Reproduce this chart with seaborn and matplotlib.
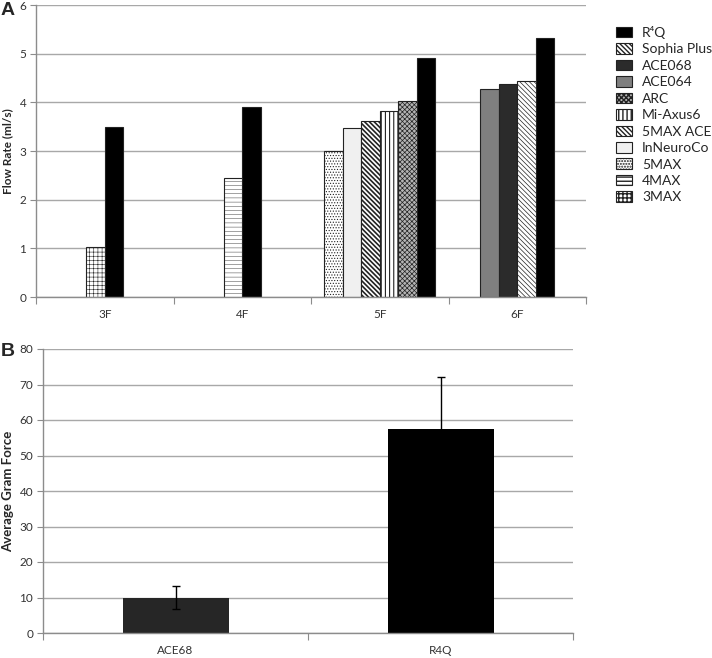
import pandas as pd
import matplotlib.pyplot as plt
import matplotlib.patches as mpatches
import seaborn as sns

# Panel A: flow rate per catheter size (ml/s)
categories = ["3F", "4F", "5F", "6F"]
series_3f = ["3MAX", "R4Q"]
values_3f = [1.03, 3.50]
series_4f = ["4MAX", "R4Q"]
values_4f = [2.44, 3.90]
series_5f = ["5MAX", "InNeuroCo", "5MAX ACE", "Mi-Axus6", "ARC", "R4Q"]
values_5f = [3.00, 3.48, 3.61, 3.83, 4.02, 4.92]
series_6f = ["ACE064", "ACE068", "Sophia Plus", "R4Q"]
values_6f = [4.27, 4.37, 4.43, 5.32]

legend_order = ["R4Q", "Sophia Plus", "ACE068", "ACE064", "ARC", "Mi-Axus6",
                "5MAX ACE", "InNeuroCo", "5MAX", "4MAX", "3MAX"]
legend_labels = ["R⁴Q", "Sophia Plus", "ACE068", "ACE064", "ARC", "Mi-Axus6",
                 "5MAX ACE", "InNeuroCo", "5MAX", "4MAX", "3MAX"]

# Panel B: average gram force
b_names = ["ACE68", "R4Q"]
b_means = [10.0, 57.6]
b_errs = [3.3, 14.6]

# look of each device: (face colour, hatch, hatch line width)
styles = {
    "R4Q": ("#000000", "", 0.5),
    "Sophia Plus": ("#ffffff", "\\" * 7, 0.5),
    "ACE068": ("#2b2b2b", "", 0.5),
    "ACE064": ("#7f7f7f", "", 0.5),
    "ARC": ("#b4b4b4", "x" * 7, 0.5),
    "Mi-Axus6": ("#ffffff", "||||", 0.8),
    "5MAX ACE": ("#ffffff", "\\" * 7, 1.2),
    "InNeuroCo": ("#f0f0f0", "", 0.5),
    "5MAX": ("#ffffff", "......", 0.5),
    "4MAX": ("#ffffff", "----", 0.3),
    "3MAX": ("#ffffff", "++++", 0.4),
}

sns.set_style("white")
plt.rcParams["font.family"] = ["Lato", "DejaVu Sans"]
plt.rcParams["hatch.color"] = "#222222"

W, H = 712, 658
fig = plt.figure(figsize=(W / 100, H / 100), dpi=100)


def px_axes(left, top, right, bottom):
    return fig.add_axes([left / W, 1 - bottom / H, (right - left) / W, (bottom - top) / H])


def apply_hatch(patch, name):
    face, hatch, hlw = styles[name]
    patch.set_hatch(hatch)
    if hasattr(patch, "set_hatch_linewidth"):
        patch.set_hatch_linewidth(hlw)
    else:
        patch._hatch_linewidth = hlw


grid_col = "#a8a8a8"
spine_col = "#8c8c8c"

# ---- panel A ----
bw = 0.134
rows = []
groups = [(series_3f, values_3f), (series_4f, values_4f),
          (series_5f, values_5f), (series_6f, values_6f)]
for i, (names, vals) in enumerate(groups):
    n = len(names)
    for j, (s, v) in enumerate(zip(names, vals)):
        rows.append({"pos": round(i + (j - (n - 1) / 2) * bw, 4), "value": v, "series": s})
df = pd.DataFrame(rows)

axA = px_axes(36, 5, 586, 297)
sns.barplot(data=df, x="pos", y="value", hue="series", native_scale=True, dodge=False,
            width=1.0, palette={k: v[0] for k, v in styles.items()},
            edgecolor="#222222", linewidth=0.8, errorbar=None, legend=False, ax=axA)
for p in axA.patches:
    c = p.get_x() + p.get_width() / 2
    row = df.iloc[(df["pos"] - c).abs().argmin()]
    apply_hatch(p, row["series"])

axA.set_xlim(-0.5, 3.5)
axA.set_ylim(0, 6)
axA.set_yticks(range(0, 7))
axA.set_xticks([-0.5, 0.5, 1.5, 2.5, 3.5])
axA.set_xticklabels([])
axA.set_xticks(range(4), minor=True)
axA.set_xticklabels(categories, minor=True)
axA.set_xlabel("")
axA.set_ylabel("Flow Rate (ml/s)", fontsize=8.5, fontweight="bold")
axA.yaxis.set_label_coords(-0.042, 0.5)

# legend
handles = []
for s in legend_order:
    h = mpatches.Patch(facecolor=styles[s][0], edgecolor="#222222", linewidth=0.8)
    apply_hatch(h, s)
    handles.append(h)
fig.legend(handles, legend_labels, loc="upper left",
           bbox_to_anchor=(616 / W, 1 - 26 / H), frameon=False, fontsize=10,
           borderpad=0, borderaxespad=0, labelspacing=0.31, handlelength=1.15,
           handleheight=0.8, handletextpad=0.72)

# ---- panel B ----
axB = px_axes(43, 349, 573, 633)
sns.barplot(x=b_names, y=b_means, hue=b_names, palette=["#262626", "#000000"],
            width=0.4, linewidth=0, legend=False, ax=axB)
axB.errorbar(x=range(len(b_names)), y=b_means, yerr=b_errs, fmt="none",
             ecolor="#000000", elinewidth=1.0, capsize=3, capthick=1.0)
axB.set_xlim(-0.5, 1.5)
axB.set_ylim(0, 80)
axB.set_yticks(range(0, 81, 10))
axB.set_xticks([-0.5, 0.5, 1.5])
axB.set_xticklabels([])
axB.set_xticks(range(2), minor=True)
axB.set_xticklabels(b_names, minor=True)
axB.set_ylabel("Average Gram Force", fontsize=9.5, fontweight="bold")
axB.yaxis.set_label_coords(-0.055, 0.5)

for ax in (axA, axB):
    ax.set_axisbelow(True)
    ax.yaxis.grid(True, color=grid_col, linewidth=1.0)
    ax.xaxis.grid(False)
    for side in ("top", "right"):
        ax.spines[side].set_visible(False)
    for side in ("left", "bottom"):
        ax.spines[side].set_color(spine_col)
        ax.spines[side].set_linewidth(1.0)
    ax.tick_params(axis="y", which="major", left=True, length=4, color=spine_col,
                   labelsize=8.5, pad=3, labelcolor="#333333")
    ax.tick_params(axis="x", which="major", bottom=True, length=5, color=spine_col)
    ax.tick_params(axis="x", which="minor", bottom=True, length=0, labelsize=8.5,
                   pad=9, labelcolor="#333333")

fig.text(1 / W, 1 - 2 / H, "A", fontsize=14, fontweight="bold", va="top",
         family="Liberation Sans")
fig.text(1 / W, 1 - 343 / H, "B", fontsize=14, fontweight="bold", va="top",
         family="Liberation Sans")

fig.savefig("out.png", dpi=100)
